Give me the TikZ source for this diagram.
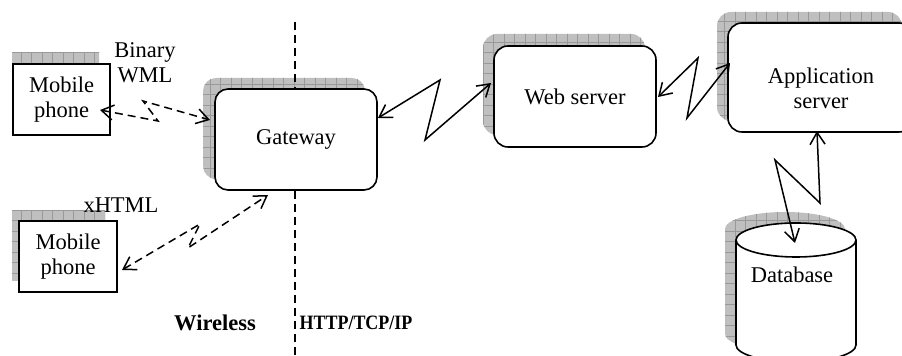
\documentclass[tikz,border=0pt]{standalone}
\usepackage{fontspec}
\usepackage{graphicx}
\setmainfont{Liberation Serif}
\usetikzlibrary{arrows.meta}
\newcommand\shadowgrid[1]{%
  \begin{scope}
    \clip #1;
    \fill[black!25] (0,0) rectangle (902,356);
    \draw[black!40, line width=0.35pt, step=5.25pt] (0,0) grid (902,356);
  \end{scope}}
\begin{document}
\begin{tikzpicture}[x=0.5pt,y=-0.5pt,
  txt/.style={font=\fontsize{11.25}{12.5}\selectfont, align=center, inner sep=0pt},
  box/.style={txt, draw, line width=0.8pt, fill=white},
  rbox/.style={box, rounded corners=6.5pt},
  conn/.style={line width=0.75pt, {Straight Barb[length=6pt,width=7.5pt]}-{Straight Barb[length=6pt,width=7.5pt]}},
  dconn/.style={conn, dash pattern=on 4pt off 2.5pt},
  sep/.style={line width=0.75pt, dash pattern=on 4pt off 2.5pt},
  lbl/.style={font=\fontsize{11.25}{12.5}\selectfont\bfseries, inner sep=0pt}]
\useasboundingbox (0,0) rectangle (902,356);
\clip (0,0) rectangle (902,356);

% shadows
\shadowgrid{(12,53) rectangle (99,124)}
\shadowgrid{(12,211) rectangle (105,281)}
\shadowgrid{[rounded corners=6.5pt] (203,78) rectangle (365,179)}
\shadowgrid{[rounded corners=7pt] (483,34) rectangle (645,135)}
\shadowgrid{[rounded corners=7pt] (717,12) rectangle (902,121)}
\shadowgrid{(725,229) -- (725,334) arc[start angle=180,end angle=360,x radius=60,y radius=-17] -- (845,229) arc[start angle=0,end angle=180,x radius=60,y radius=-17] -- cycle}

% separator
\coordinate (sepT) at (295,22);
\coordinate (sepB) at (295,356);
\draw[sep] (sepT) -- (sepB);

% boxes
\node[box, minimum width=48.5pt, minimum height=35.5pt] (m1) at (61.5,99.5) {Mobile\\phone};
\node[box, minimum width=49pt, minimum height=35.5pt] (m2) at (68,256.5) {Mobile\\phone};
\node[rbox, minimum width=81pt, minimum height=50.5pt] (gw) at (296,139.5) {Gateway};
\node[rbox, rounded corners=7pt, minimum width=81pt, minimum height=50.5pt] (ws) at (575,96.5) {Web server};
\node[rbox, rounded corners=7pt, minimum width=92.5pt, minimum height=54.5pt] (app) at (820.5,77.5) {};
\node[txt] (apptxt) at (821,88) {Application\\server};

% database cylinder
\path[draw, line width=0.8pt, fill=white] (736,240) -- (736,345) arc[start angle=180,end angle=360,x radius=60,y radius=-17] -- (856,240) arc[start angle=0,end angle=180,x radius=60,y radius=-17] -- cycle;
\draw[line width=0.8pt] (736,240) arc[start angle=180,end angle=360,x radius=60,y radius=-17];
\node[txt] (db) at (792,275) {Database};
\coordinate (dbtop) at (795,243);

% labels
\node[txt] (bwml) at (145,63) {Binary\\WML};
\node[txt] (xhtml) at (121,205) {xHTML};
\node[lbl] (wl) at (215,323) {Wireless};
\node[lbl, font=\fontsize{10.2}{12}\selectfont\bfseries] (http) at (356,323) {\scalebox{0.88}[1]{HTTP/TCP/IP}};

% connectors
\coordinate (m1A) at (100,110);
\coordinate (m1B) at (158,121);
\coordinate (m1C) at (143,101);
\coordinate (gwL) at (210,120);
\draw[dconn] (m1A) -- (m1B) -- (m1C) -- (gwL);

\coordinate (m2A) at (122,270);
\coordinate (m2B) at (200,224);
\coordinate (m2C) at (188,248);
\coordinate (gwBL) at (268,195);
\draw[dconn] (m2A) -- (m2B) -- (m2C) -- (gwBL);

\coordinate (gwR) at (378,118);
\coordinate (z1B) at (440,80);
\coordinate (z1C) at (425,140);
\coordinate (wsL) at (491,83);
\draw[conn] (gwR) -- (z1B) -- (z1C) -- (wsL);

\coordinate (wsR) at (658,97);
\coordinate (z2B) at (698,58);
\coordinate (z2C) at (687,118);
\coordinate (appL) at (730,63);
\draw[conn] (wsR) -- (z2B) -- (z2C) -- (appL);

\coordinate (appB) at (817,131);
\coordinate (z3B) at (820,203);
\coordinate (z3C) at (775,160);
\draw[conn] (appB) -- (z3B) -- (z3C) -- (dbtop);
\end{tikzpicture}
\end{document}
